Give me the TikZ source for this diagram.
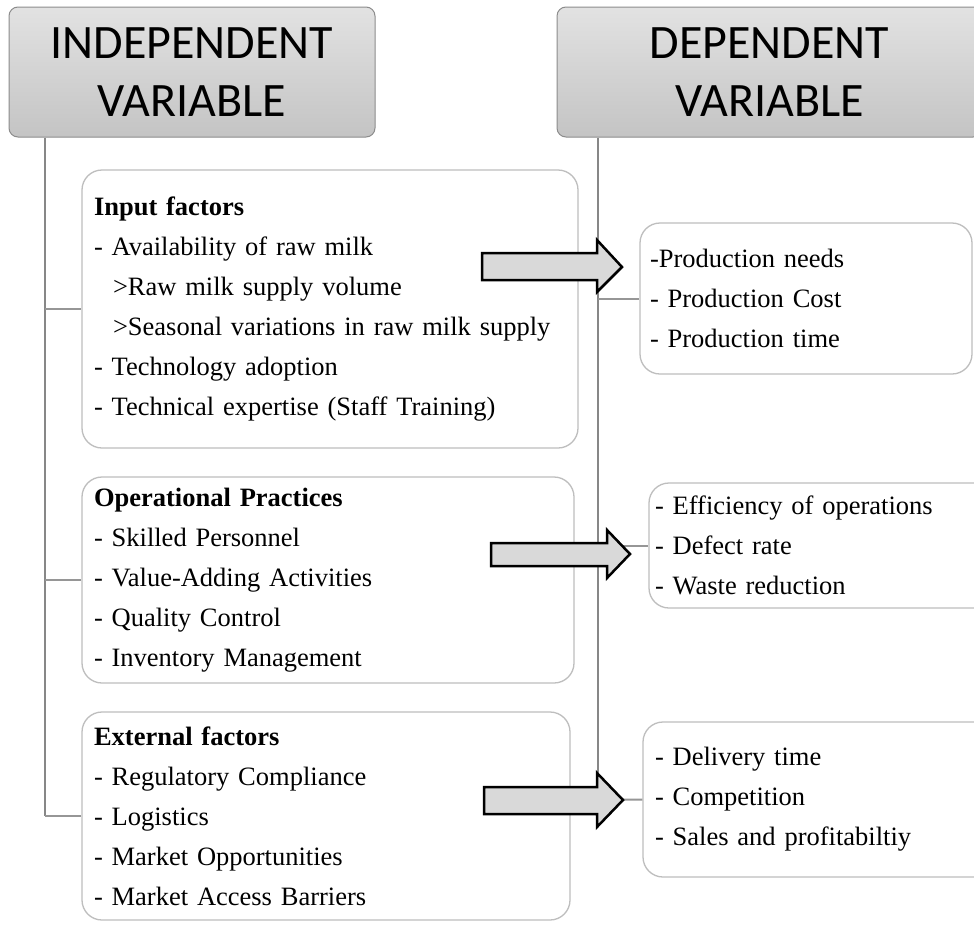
\documentclass[tikz,border=0pt]{standalone}
\usepackage{fontspec}
\setmainfont{Liberation Serif}
\newfontfamily\hdrfont{Carlito}
\definecolor{hdrtop}{RGB}{226,226,226}
\definecolor{hdrbot}{RGB}{196,196,196}
\definecolor{hdrline}{RGB}{140,140,140}
\definecolor{boxline}{RGB}{190,190,190}
\definecolor{trunkc}{RGB}{135,135,135}
\definecolor{branchc}{RGB}{150,150,150}
\definecolor{arrfill}{RGB}{217,217,217}
\begin{document}
\begin{tikzpicture}[x=1pt,y=-1pt,
  hdr/.style={draw=hdrline, line width=1pt, rounded corners=9pt, top color=hdrtop, bottom color=hdrbot,
    font=\hdrfont\fontsize{48}{58}\selectfont, align=center, inner sep=0pt},
  box/.style={draw=boxline, line width=1.3pt, rounded corners=20pt, fill=white, align=left,
    inner ysep=0pt, font=\fontsize{26.5}{40}\selectfont},
  trunk/.style={draw=trunkc, line width=2.5pt},
  branch/.style={draw=branchc, line width=2pt},
  bigarrow/.style={draw=black, line width=2.5pt, fill=arrfill, line join=miter}]
\clip (0,0) rectangle (974,924);
\fill[white] (0,0) rectangle (974,924);

% headers
\node[hdr, minimum width=366pt, minimum height=130pt] (hi) at (192,72) {INDEPENDENT\\VARIABLE};
\node[hdr, minimum width=425pt, minimum height=130pt] (hd) at (769.5,72) {DEPENDENT\\VARIABLE};

% trunk coordinates
\coordinate (lt) at (45,816);
\coordinate (rt) at (598,800);

% left boxes
\node[box, minimum width=496pt, minimum height=278pt, text width=472pt, inner xsep=12pt] (in1) at (330,309)
 {\textbf{Input factors}\\
  - Availability of raw milk\\
  \hspace*{19pt}>Raw milk supply volume\\
  \hspace*{19pt}>Seasonal variations in raw milk supply\\
  - Technology adoption\\
  - Technical expertise (Staff Training)};
\node[box, minimum width=492pt, minimum height=206pt, text width=468pt, inner xsep=12pt] (in2) at (328,580)
 {\textbf{Operational Practices}\\
  - Skilled Personnel\\
  - Value-Adding Activities\\
  - Quality Control\\
  - Inventory Management};
\node[box, minimum width=488pt, minimum height=208pt, text width=464pt, inner xsep=12pt] (in3) at (326,816)
 {\textbf{External factors}\\
  - Regulatory Compliance\\
  - Logistics\\
  - Market Opportunities\\
  - Market Access Barriers};

% right boxes
\node[box, minimum width=332pt, minimum height=151pt, text width=312pt, inner xsep=10pt] (out1) at (806,298.5)
 {-Production needs\\
  - Production Cost\\
  - Production time};
\node[box, minimum width=346pt, minimum height=125pt, text width=334pt, inner xsep=6pt] (out2) at (822,545.5)
 {- Efficiency of operations\\
  - Defect rate\\
  - Waste reduction};
\node[box, minimum width=352pt, minimum height=155pt, text width=328pt, inner xsep=12pt] (out3) at (819,799.5)
 {- Delivery time\\
  - Competition\\
  - Sales and profitabiltiy};

% connectors
\draw[trunk] (lt |- hi.south) -- (lt);
\draw[branch] (lt |- in1.west) -- (in1.west);
\draw[branch] (lt |- in2.west) -- (in2.west);
\draw[branch] (lt) -- (in3.west);
\draw[trunk] (rt |- hd.south) -- (rt);
\draw[branch] (rt |- out1.west) -- (out1.west);
\draw[branch] (rt |- out2.west) -- (out2.west);
\draw[branch] (rt) -- (out3.west);

% block arrows
\draw[bigarrow] (482,253) -- (597,253) -- (597,240) -- (622,267) -- (597,292) -- (597,280) -- (482,280) -- cycle;
\draw[bigarrow] (491,543) -- (607,543) -- (607,530) -- (630,554) -- (607,578) -- (607,566) -- (491,566) -- cycle;
\draw[bigarrow] (484,787) -- (597,787) -- (597,773) -- (623,800) -- (597,827) -- (597,814) -- (484,814) -- cycle;
\end{tikzpicture}
\end{document}
